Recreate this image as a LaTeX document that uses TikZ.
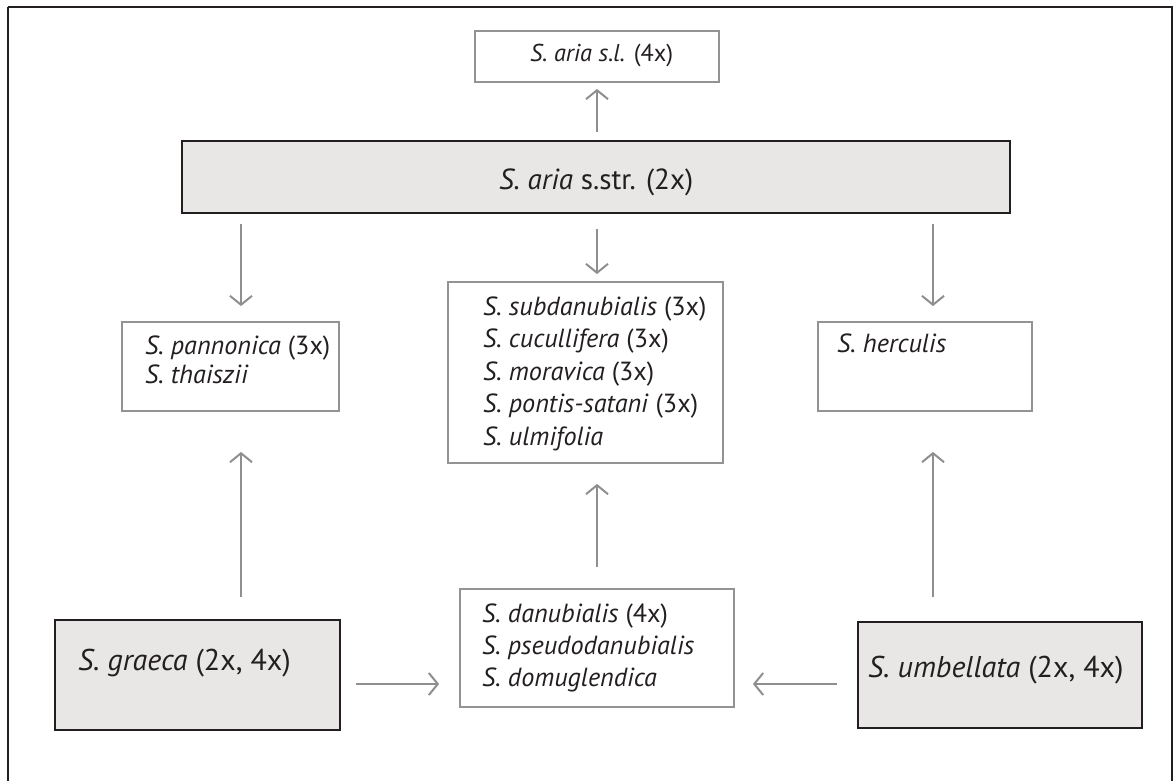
\documentclass[tikz,border=0pt]{standalone}
\usepackage{fontspec}
\setmainfont{PT Sans}
\usetikzlibrary{arrows.meta}
\definecolor{boxfill}{HTML}{E8E7E6}
\definecolor{darkline}{HTML}{231F20}
\definecolor{lightline}{HTML}{939393}
\definecolor{arrowgray}{HTML}{8F8F8F}
\newlength\mytmplen
\newcommand\mysizefor[3]{%
  \settowidth\mytmplen{\fontsize{10}{12}\selectfont #3}%
  \pgfmathparse{10*#2/\mytmplen}\xdef#1{\pgfmathresult}}
\tikzset{
  darkbox/.style={draw=darkline, line width=2pt, fill=boxfill, minimum width=#1, inner sep=0pt},
  lightbox/.style={draw=lightline, line width=1.8pt, fill=white, inner sep=0pt},
  lbl/.style={anchor=base west, inner sep=0pt, text=darkline},
  arr/.style={draw=arrowgray, line width=2pt, -{Straight Barb[length=9pt, width=22pt, line width=2pt]}},
}
\begin{document}
\mysizefor\fsSL{143}{\textit{S. aria s.l.} (4x)}%
\mysizefor\fsMain{194}{\textit{S. aria} s.str. (2x)}%
\mysizefor\fsA{187}{\textit{S. pannonica} (3x)}%
\mysizefor\fsB{223}{\textit{S. subdanubialis} (3x)}%
\mysizefor\fsC{216}{\textit{S. pseudodanubialis}}%
\mysizefor\fsD{106}{\textit{S. herculis}}%
\mysizefor\fsE{212}{\textit{S. graeca} (2x, 4x)}%
\mysizefor\fsF{256}{\textit{S. umbellata} (2x, 4x)}%
\pgfmathparse{(\fsA+\fsB+\fsC+\fsD)/4}\xdef\fsList{\pgfmathresult}%
\pgfmathparse{(\fsE+\fsF)/2}\xdef\fsBig{\pgfmathresult}%
\begin{tikzpicture}[x=1pt, y=-1pt]
\useasboundingbox (0,0) rectangle (1173,780);
\draw[darkline, line width=2pt] (8,7) -- (1172,7) -- (1172,790) (8,7) -- (8,790);
% boxes
\node[lightbox, minimum width=244pt, minimum height=51pt] (sl) at (597,56.5) {};
\node[darkbox=828pt, minimum height=72pt] (main) at (596,177) {};
\node[lightbox, minimum width=217pt, minimum height=89pt] (pann) at (230.5,366.5) {};
\node[lightbox, minimum width=275pt, minimum height=181pt] (mid) at (585.5,372.5) {};
\node[lightbox, minimum width=214pt, minimum height=89pt] (herc) at (925,366.5) {};
\node[darkbox=285pt, minimum height=110pt] (graeca) at (197.5,675) {};
\node[lightbox, minimum width=274pt, minimum height=118pt] (dan) at (597,648) {};
\node[darkbox=284pt, minimum height=106pt] (umb) at (1000,675) {};
% labels
\node[lbl, font=\fontsize{\fsSL}{26}\selectfont] (tsl) at (530,61) {\textit{S. aria s.l.} (4x)};
\node[lbl, font=\fontsize{\fsMain}{32}\selectfont] (tmain) at (499,189) {\textit{S. aria} s.str. (2x)};
\begin{scope}[every node/.style={lbl, font=\fontsize{\fsList}{31}\selectfont}]
\node (tp1) at (145,354) {\textit{S. pannonica} (3x)};
\node (tp2) at (145,383) {\textit{S. thaiszii}};
\node (tm1) at (483,315) {\textit{S. subdanubialis} (3x)};
\node (tm2) at (483,347.5) {\textit{S. cucullifera} (3x)};
\node (tm3) at (483,380) {\textit{S. moravica} (3x)};
\node (tm4) at (483,412.5) {\textit{S. pontis-satani} (3x)};
\node (tm5) at (483,445) {\textit{S. ulmifolia}};
\node (th) at (837,352) {\textit{S. herculis}};
\node (td1) at (482,622) {\textit{S. danubialis} (4x)};
\node (td2) at (482,654) {\textit{S. pseudodanubialis}};
\node (td3) at (482,686) {\textit{S. domuglendica}};
\end{scope}
\node[lbl, font=\fontsize{\fsBig}{34}\selectfont] (tg) at (78,670) {\textit{S. graeca} (2x, 4x)};
\node[lbl, font=\fontsize{\fsBig}{34}\selectfont] (tu) at (868,677) {\textit{S. umbellata} (2x, 4x)};
% arrows
\draw[arr, shorten <=8pt, shorten >=6pt] (main.north -| sl.south) -- (sl.south);
\draw[arr, shorten <=10pt, shorten >=15pt] ([xshift=10.5pt]main.south -| pann.north) -- ([xshift=10.5pt]pann.north);
\draw[arr, shorten <=15pt, shorten >=7pt] ([xshift=11.5pt]main.south -| mid.north) -- ([xshift=11.5pt]mid.north);
\draw[arr, shorten <=10pt, shorten >=15pt] ([xshift=8pt]main.south -| herc.north) -- ([xshift=8pt]herc.north);
\draw[arr, shorten <=22pt, shorten >=40pt] ([xshift=43.5pt]graeca.north) -- ([xshift=43.5pt]graeca.north |- pann.south);
\draw[arr, shorten <=21pt, shorten >=20pt] (dan.north) -- (dan.north |- mid.south);
\draw[arr, shorten <=24pt, shorten >=40pt] ([xshift=-67pt]umb.north) -- ([xshift=-67pt]umb.north |- herc.south);
\draw[arr, shorten <=15pt, shorten >=20pt] ([yshift=-9pt]graeca.east) -- ([yshift=-9pt]graeca.east -| dan.west);
\draw[arr, shorten <=20pt, shorten >=18pt] ([yshift=-9pt]umb.west) -- ([yshift=-9pt]umb.west -| dan.east);
\end{tikzpicture}
\end{document}
